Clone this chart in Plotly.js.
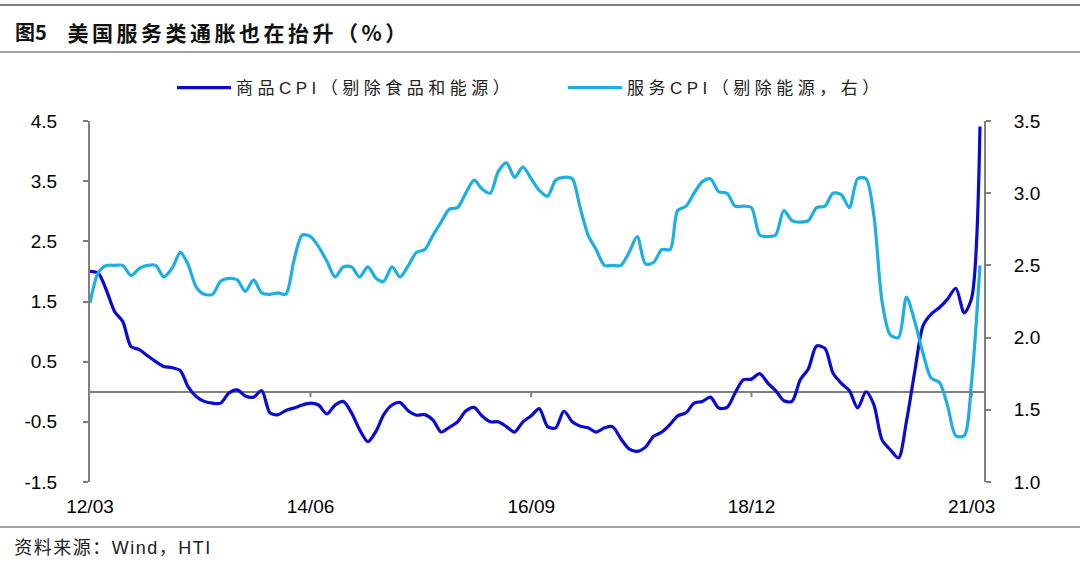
<!DOCTYPE html>
<html><head><meta charset="utf-8">
<script src="https://cdn.plot.ly/plotly-3.0.1.min.js"></script>
<style>
html,body{margin:0;padding:0;background:#fff;}
#chart{width:1080px;height:565px;}
.legendtext{letter-spacing:4.5px;}
g.annotation[data-index="1"] text{letter-spacing:3.5px;}
g.annotation[data-index="2"] text{letter-spacing:1.5px;}
</style>
</head><body><div id="chart"></div>
<script>
// ---- data ----
const startYear = 2012, startMonthIndex = 2; // first month: 2012-03
const goodsCPI = [
 2.00,1.97,1.69,1.33,1.17,0.75,0.70,0.60,0.50,0.42,
 0.40,0.35,0.09,-0.08,-0.16,-0.19,-0.19,-0.02,0.03,-0.07,
 -0.09,0.02,-0.35,-0.38,-0.31,-0.27,-0.22,-0.19,-0.22,-0.37,
 -0.22,-0.16,-0.35,-0.63,-0.83,-0.65,-0.38,-0.22,-0.18,-0.32,
 -0.39,-0.38,-0.47,-0.67,-0.59,-0.50,-0.32,-0.26,-0.40,-0.50,
 -0.50,-0.58,-0.67,-0.50,-0.40,-0.28,-0.58,-0.60,-0.32,-0.50,
 -0.57,-0.60,-0.67,-0.60,-0.58,-0.78,-0.95,-0.99,-0.92,-0.74,
 -0.67,-0.54,-0.40,-0.35,-0.19,-0.16,-0.09,-0.27,-0.26,-0.02,
 0.20,0.21,0.30,0.14,0.02,-0.15,-0.16,0.20,0.38,0.76,
 0.72,0.31,0.14,0.02,-0.27,0.00,-0.21,-0.80,-0.96,-1.10,
 -0.49,0.34,1.10,1.29,1.40,1.54,1.72,1.31,1.56,4.41
];
const servicesCPI = [
 2.24,2.45,2.50,2.50,2.50,2.43,2.48,2.50,2.50,2.42,
 2.48,2.59,2.51,2.35,2.30,2.30,2.39,2.41,2.40,2.32,
 2.40,2.31,2.30,2.31,2.30,2.54,2.71,2.70,2.63,2.53,
 2.42,2.49,2.49,2.42,2.49,2.41,2.39,2.49,2.42,2.50,
 2.59,2.61,2.71,2.80,2.89,2.90,3.00,3.09,3.03,3.00,
 3.15,3.21,3.11,3.18,3.10,3.02,2.98,3.09,3.11,3.10,
 2.91,2.71,2.61,2.50,2.50,2.50,2.59,2.70,2.51,2.52,
 2.61,2.61,2.88,2.91,3.00,3.08,3.10,3.01,3.00,2.91,
 2.91,2.90,2.71,2.70,2.71,2.88,2.81,2.80,2.81,2.90,
 2.91,3.00,2.99,2.90,3.10,3.10,2.85,2.25,2.02,2.00,
 2.28,2.11,1.89,1.72,1.69,1.53,1.32,1.32,1.70,2.50
];
const seriesNames = ['商品CPI（剔除食品和能源）', '服务CPI（剔除能源，右）'];
const xTickVals = ['2012-03-01','2014-06-01','2016-09-01','2018-12-01','2021-03-01'];
const xTickText = ['12/03','14/06','16/09','18/12','21/03'];
const leftTicks = [-1.5,-0.5,0.5,1.5,2.5,3.5,4.5];
const rightTicks = [1.0,1.5,2.0,2.5,3.0,3.5];
const titleNo = '图5';
const titleText = '美国服务类通胀也在抬升（%）';
const sourceText = '资料来源：Wind，HTI';

// monthly dates for the categories
const months = goodsCPI.map((_, i) => new Date(Date.UTC(startYear, startMonthIndex + i, 1)).toISOString().slice(0,10));

// ---- layout helpers (pixel -> paper) ----
const L = 90, R = 984, T = 121, B = 482;
const px = x => (x - L) / (R - L);
const py = y => (B - y) / (B - T);
const GRAY = '#808080';
const FONT = '"Liberation Sans", Arial, "Noto Sans CJK SC", sans-serif';
const CJK = '"Noto Sans CJK SC", "Liberation Sans", sans-serif';
const MIX = '"Liberation Sans", "Noto Sans CJK SC", sans-serif';

const traces = [
  {x: months, y: goodsCPI, name: seriesNames[0], type: 'scatter', mode: 'lines',
   line: {color: '#0A0AD0', width: 3.2, shape: 'spline', smoothing: 0.8}, yaxis: 'y'},
  {x: months, y: servicesCPI, name: seriesNames[1], type: 'scatter', mode: 'lines',
   line: {color: '#1DAEE4', width: 3.2, shape: 'spline', smoothing: 0.8}, yaxis: 'y2'}
];

const shapes = [
  {type:'line', xref:'paper', yref:'paper', x0:px(0), x1:px(1080), y0:py(5), y1:py(5), line:{color:GRAY, width:2}},
  {type:'line', xref:'paper', yref:'paper', x0:px(0), x1:px(1080), y0:py(52), y1:py(52), line:{color:GRAY, width:1.5}},
  {type:'line', xref:'paper', yref:'paper', x0:px(0), x1:px(1080), y0:py(527), y1:py(527), line:{color:GRAY, width:1.5}}
];
xTickVals.slice(1).forEach(v => shapes.push({type:'line', xref:'x', yref:'y', x0:v, x1:v, y0:0, y1:-0.09, line:{color:GRAY, width:2}}));

const layout = {
  width: 1080, height: 565,
  margin: {l: L, r: 1080 - R, t: T, b: 565 - B, pad: 0},
  paper_bgcolor: '#fff', plot_bgcolor: '#fff',
  font: {family: FONT, size: 19, color: '#000'},
  showlegend: true,
  legend: {orientation: 'h', x: px(172), y: py(88), xanchor: 'left', yanchor: 'middle',
           font: {family: MIX, size: 17, color: '#222'}, bgcolor: 'rgba(0,0,0,0)',
           entrywidth: 322, tracegroupgap: 0, itemwidth: 54},
  xaxis: {type: 'date', range: ['2012-03-01', '2021-04-16'], tickvals: xTickVals, ticktext: xTickText,
          showgrid: false, zeroline: false, showline: false, ticks: '', ticklabelstandoff: 11,
          tickfont: {family: FONT, size: 19, color: '#000'}, fixedrange: true},
  yaxis: {range: [-1.5, 4.5], tickvals: leftTicks, ticktext: leftTicks.map(v => v.toFixed(1)),
          showgrid: false, showline: true, linecolor: GRAY, linewidth: 2,
          ticks: 'outside', ticklen: 5, tickcolor: GRAY, tickwidth: 2,
          zeroline: true, zerolinecolor: GRAY, zerolinewidth: 2, ticklabelstandoff: 22,
          tickfont: {family: FONT, size: 19, color: '#000'}},
  yaxis2: {range: [1.0, 3.5], tickvals: rightTicks, ticktext: rightTicks.map(v => v.toFixed(1)),
           overlaying: 'y', side: 'right', showgrid: false, zeroline: false,
           showline: true, linecolor: GRAY, linewidth: 2,
           ticks: 'outside', ticklen: 5, tickcolor: GRAY, tickwidth: 2, ticklabelstandoff: 19,
           tickfont: {family: FONT, size: 19, color: '#000'}},
  shapes: shapes,
  annotations: [
    {xref:'paper', yref:'paper', x:px(13), y:py(32), xanchor:'left', yanchor:'middle', showarrow:false,
     text:'<b>' + titleNo + '</b>', font:{family: CJK, size: 20, color:'#111'}},
    {xref:'paper', yref:'paper', x:px(238), y:py(32), xanchor:'center', yanchor:'middle', showarrow:false,
     text:'<b>' + titleText + '</b>', font:{family: CJK, size: 21, color:'#111'}},
    {xref:'paper', yref:'paper', x:px(113), y:py(548), xanchor:'center', yanchor:'middle', showarrow:false,
     text: sourceText, font:{family: MIX, size: 18, color:'#222'}}
  ]
};

Plotly.newPlot('chart', traces, layout, {displayModeBar: false, staticPlot: true});
</script>
</body></html>
